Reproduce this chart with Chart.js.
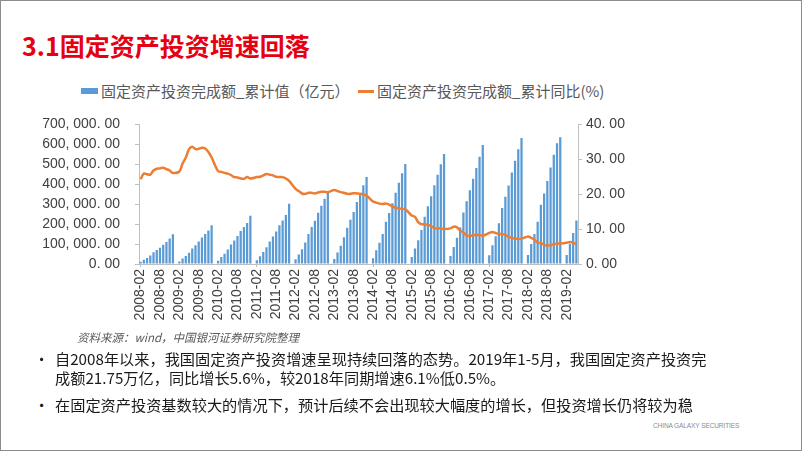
<!DOCTYPE html>
<html lang="zh-CN">
<head>
    <meta charset="UTF-8">
    <title>3.1固定资产投资增速回落</title>
    <script src="https://cdn.jsdelivr.net/npm/chart.js"></script>
    <style>
        * { margin: 0; padding: 0; box-sizing: border-box; }
        body {
            width: 802px; height: 451px; overflow: hidden;
            background: #fff;
            font-family: "Noto Sans CJK SC", "Noto Sans", sans-serif;
        }
        .slide {
            position: relative; width: 802px; height: 451px;
            border: 1px solid #8c8c8c;
        }
        .title {
            position: absolute; left: 21px; top: 28px;
            font-size: 25px; font-weight: bold; color: #e60012;
            line-height: 32px; white-space: nowrap;
        }
        .legend {
            position: absolute; top: 81px; height: 18px;
            font-size: 15px; color: #595959; line-height: 18px; white-space: nowrap;
        }
        .swatch-bar { position: absolute; left: 80px; top: 87px; width: 17px; height: 6px; background: #5b9bd5; }
        .swatch-line { position: absolute; left: 357px; top: 89px; width: 16px; height: 3px; background: #ed7d31; }
        #chartWrap { position: absolute; left: 0; top: 100px; width: 660px; height: 235px; }
        .source {
            position: absolute; left: 76px; top: 328px;
            font-size: 11.5px; font-style: italic; color: #595959; white-space: nowrap;
        }
        .bullet {
            position: absolute; left: 33px; font-size: 15.2px; color: #1a1a1a;
            line-height: 19px; white-space: nowrap;
        }
        .bullet span { position: absolute; left: 21px; }
        .footer {
            position: absolute; left: 652px; top: 421px;
            font-family: "Liberation Sans Narrow", "Liberation Sans", sans-serif;
            font-size: 6.6px; color: #8c8c8c; letter-spacing: -0.15px; white-space: nowrap;
        }
    </style>
</head>
<body>
<div class="slide">
    <div class="title">3.1固定资产投资增速回落</div>

    <div class="swatch-bar"></div>
    <div class="legend" style="left:100px;">固定资产投资完成额_累计值（亿元）</div>
    <div class="swatch-line"></div>
    <div class="legend" style="left:376px;">固定资产投资完成额_累计同比(%)</div>

    <div id="chartWrap"><canvas id="faiChart" width="660" height="235"></canvas></div>

    <div class="source">资料来源：wind，中国银河证券研究院整理</div>

    <div class="bullet" style="top:348px;">•<span>自2008年以来，我国固定资产投资增速呈现持续回落的态势。2019年1-5月，我国固定资产投资完</span></div>
    <div class="bullet" style="top:367px;"><span>成额21.75万亿，同比增长5.6%，较2018年同期增速6.1%低0.5%。</span></div>
    <div class="bullet" style="top:394px;">•<span>在固定资产投资基数较大的情况下，预计后续不会出现较大幅度的增长，但投资增长仍将较为稳</span></div>

    <div class="footer">CHINA GALAXY SECURITIES</div>
</div>

<script>
    // monthly categories 2008-02 .. 2019-05 (January has no data in wind)
    const firstMonth = '2008-02';
    const lastMonth = '2019-05';
    const months = [];
    for (let y = 2008; y <= 2019; y++) {
        for (let m = 1; m <= 12; m++) {
            const key = y + '-' + String(m).padStart(2, '0');
            if (key >= firstMonth && key <= lastMonth) months.push(key);
        }
    }

    // 固定资产投资完成额_累计值（亿元）, Jan = null
    const faiCumulative = [
              11460, 20952, 30215, 42115, 58436, 70222, 81885, 96000, 110000, 128000, 148738,
        null, 12757, 28129, 40000, 56000, 78098, 94000, 113000, 133000, 150000, 168000, 193920,
        null, 16055, 35000, 52000, 73000, 98350, 118000, 140000, 166000, 185000, 206000, 241431,
        null, 19000, 39465, 59575, 84000, 112440, 138000, 163000, 194000, 218000, 246000, 302396,
        null, 23500, 47880, 74000, 107500, 150700, 185000, 217000, 257000, 292000, 327000, 364854,
        null, 25000, 58092, 91348, 134000, 181318, 222000, 261000, 311000, 354000, 395000, 436528,
        null, 29000, 68322, 106000, 150000, 212000, 256000, 305000, 357000, 408000, 455000, 502005,
        null, 34477, 77511, 118558, 170000, 237132, 289000, 340000, 394531, 447425, 499917, 551590,
        null, 39590, 85843, 131147, 183000, 258360, 314111, 370000, 426906, 482000, 538000, 596501,
        null, 44246, 93777, 139330, 203716, 280605, 337705, 394150, 458478, 517818, 575057, 631684,
        null, 44636, 100763, 150000, 212000, 297316, 353387, 416000, 483442, 548000, 605000, 635636,
        null, 44849, 101871, 155747, 217503
    ];

    // 固定资产投资完成额_累计同比(%)
    const faiYoY = [
              24.3, 25.9, 25.7, 25.6, 26.8, 27.3, 27.4, 27.6, 27.2, 26.8, 26.1,
        null, 26.5, 28.8, 30.5, 32.9, 33.6, 32.9, 33.0, 33.3, 33.1, 32.1, 30.5,
        null, 26.6, 26.4, 26.1, 25.9, 25.5, 24.9, 24.8, 24.5, 24.4, 24.9, 24.5,
        null, 24.9, 25.0, 25.4, 25.8, 25.6, 25.4, 25.0, 24.9, 24.9, 24.5, 23.8,
        null, 21.5, 20.9, 20.2, 20.1, 20.4, 20.4, 20.2, 20.5, 20.7, 20.7, 20.6,
        null, 21.2, 20.9, 20.6, 20.4, 20.1, 20.1, 20.3, 20.2, 20.1, 19.9, 19.6,
        null, 17.9, 17.6, 17.3, 17.2, 17.3, 17.0, 16.5, 16.1, 15.9, 15.8, 15.7,
        null, 13.9, 13.5, 12.0, 11.4, 11.4, 11.2, 10.9, 10.3, 10.2, 10.2, 10.0,
        null, 10.2, 10.7, 10.5, 9.6, 9.0, 8.1, 8.1, 8.2, 8.3, 8.3, 8.1,
        null, 8.9, 9.2, 8.9, 8.6, 8.6, 8.3, 7.8, 7.5, 7.3, 7.2, 7.2,
        null, 7.9, 7.5, 7.0, 6.1, 6.0, 5.5, 5.3, 5.4, 5.7, 5.9, 5.9,
        null, 6.1, 6.3, 6.1, 5.6
    ];

    const leftTicks = { min: 0, max: 700000, step: 100000 };
    const rightTicks = { min: 0, max: 40, step: 5 };
    const labelEvery = 6;

    function fmt(v) {
        return v.toLocaleString('en-US', { minimumFractionDigits: 2, maximumFractionDigits: 2 })
            .replace(/,/g, ', ').replace('.', '. ');
    }

    Chart.defaults.font.family = '"Liberation Sans", Arial, sans-serif';
    Chart.defaults.color = '#404040';

    new Chart(document.getElementById('faiChart'), {
        type: 'bar',
        data: {
            labels: months,
            datasets: [
                {
                    type: 'line',
                    label: '固定资产投资完成额_累计同比(%)',
                    data: faiYoY,
                    yAxisID: 'y1',
                    borderColor: '#ed7d31',
                    borderWidth: 2.5,
                    pointRadius: 0,
                    tension: 0.3,
                    spanGaps: true,
                    order: 0
                },
                {
                    label: '固定资产投资完成额_累计值（亿元）',
                    data: faiCumulative,
                    yAxisID: 'y',
                    backgroundColor: '#5b9bd5',
                    barPercentage: 0.7,
                    categoryPercentage: 1,
                    order: 1
                }
            ]
        },
        options: {
            responsive: false,
            animation: false,
            layout: { padding: { top: 12, left: 0, right: 0, bottom: 0 } },
            plugins: { legend: { display: false }, tooltip: { enabled: false } },
            scales: {
                x: {
                    afterFit: s => { s.height = 72; },
                    grid: {
                        drawOnChartArea: false,
                        offset: false,
                        tickLength: 3,
                        color: ctx => (ctx.index % labelEvery === 0 ? '#bfbfbf' : 'rgba(0,0,0,0)')
                    },
                    border: { color: '#bfbfbf' },
                    ticks: {
                        autoSkip: false,
                        minRotation: 90,
                        maxRotation: 90,
                        padding: 2,
                        font: { size: 14 },
                        callback: (v, i) => (i % labelEvery === 0 ? months[i] : null)
                    }
                },
                y: {
                    position: 'left',
                    min: leftTicks.min,
                    max: leftTicks.max,
                    afterFit: s => { s.width = 138; },
                    grid: { drawOnChartArea: false, tickLength: 4, color: '#bfbfbf' },
                    border: { color: '#bfbfbf' },
                    ticks: { stepSize: leftTicks.step, padding: 15, font: { size: 14 }, callback: v => fmt(v) }
                },
                y1: {
                    position: 'right',
                    min: rightTicks.min,
                    max: rightTicks.max,
                    afterFit: s => { s.width = 83; },
                    grid: { drawOnChartArea: false, tickLength: 4, color: '#bfbfbf' },
                    border: { color: '#bfbfbf' },
                    ticks: { stepSize: rightTicks.step, padding: 4, font: { size: 14 }, callback: v => fmt(v) }
                }
            }
        }
    });
</script>
</body>
</html>
